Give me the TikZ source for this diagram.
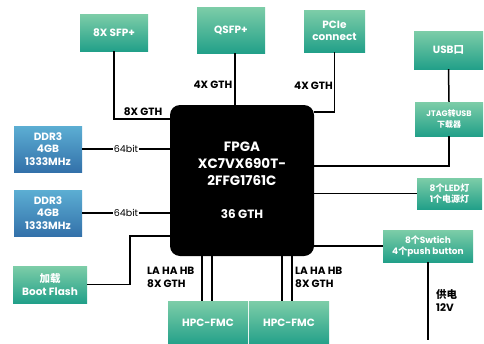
\documentclass[tikz,border=0pt]{standalone}
\usepackage{fontspec}
\setmainfont{Poppins}
\newfontfamily\cjk{Noto Sans CJK SC}
\usepackage{xcolor}
\definecolor{grnTop}{HTML}{7DCDA8}
\definecolor{grnBot}{HTML}{22A089}
\definecolor{bluTop}{HTML}{5CAED3}
\definecolor{bluBot}{HTML}{3371AA}
\newcommand{\zh}[1]{{\cjk #1}}

\begin{document}
\begin{tikzpicture}[
  x=1pt, y=-1pt,
  font=\fontsize{10.5}{12.5}\selectfont\bfseries,
  blk/.style={inner sep=0pt, align=center, text=white, top color=grnTop, bottom color=grnBot},
  mem/.style={blk, top color=bluTop, bottom color=bluBot, font=\fontsize{10.5}{12.5}\selectfont\bfseries},
  cpu/.style={fill=black, rounded corners=10pt, text=white, align=center, inner sep=0pt, font=\fontsize{13.5}{17}\selectfont\bfseries},
  lbl/.style={inner sep=1pt, align=left, font=\fontsize{10.5}{13}\selectfont\bfseries},
  wire/.style={line width=1.5pt}
]
\useasboundingbox (0,0) rectangle (484,343);

\node[cpu, minimum width=144pt, minimum height=151pt] (fpga) at (242,180.5) {FPGA\\XC7VX690T-\\2FFG1761C\\[16pt]{\fontsize{12}{17}\selectfont 36 GTH}};

\node[blk, minimum width=68pt, minimum height=37pt] (sfp) at (114,32.5) {8X SFP+};
\node[blk, minimum width=68pt, minimum height=46pt] (qsfp) at (231,30) {QSFP+};
\node[blk, minimum width=61pt, minimum height=42pt] (pcie) at (334.5,31) {PCIe\\connect};
\node[blk, minimum width=69pt, minimum height=38pt] (usb) at (448.5,50) {USB\zh{口}};
\node[blk, minimum width=68pt, minimum height=34pt, font=\fontsize{8}{11}\selectfont\bfseries] (jtag) at (449,119) {JTAG\zh{转}USB\\\zh{下载器}};

\node[mem, minimum width=68pt, minimum height=46pt] (ddrA) at (48,149) {DDR3\\4GB\\1333MHz};
\node[mem, minimum width=68pt, minimum height=46pt] (ddrB) at (48,213) {DDR3\\4GB\\1333MHz};
\node[blk, minimum width=74pt, minimum height=37pt] (boot) at (50,284.5) {\zh{加载}\\Boot Flash};

\node[blk, minimum width=80pt, minimum height=44pt] (hpcA) at (208,323) {HPC-FMC};
\node[blk, minimum width=80pt, minimum height=44pt] (hpcB) at (289,323) {HPC-FMC};

\node[blk, minimum width=65pt, minimum height=31pt, font=\fontsize{9}{11}\selectfont\bfseries] (led) at (449.5,193.5) {8\zh{个}LED\zh{灯}\\1\zh{个电源灯}};
\node[blk, minimum width=90pt, minimum height=32pt, font=\fontsize{9}{11}\selectfont\bfseries] (sw) at (428,246) {8\zh{个}Swtich\\4\zh{个}push button};
\coordinate (pwr) at (428,340);

\node[lbl] (gthSfp) at (143,112) {8X GTH};
\node[lbl] (gthQsfp) at (213,85) {4X GTH};
\node[lbl] (gthPcie) at (313.5,86) {4X GTH};
\node[lbl, anchor=west] (fmcA) at (146,277.5) {LA HA HB\\8X GTH};
\node[lbl, anchor=west] (fmcB) at (294,277.5) {LA HA HB\\8X GTH};
\node[lbl, anchor=west] (pwrLbl) at (435,300.5) {\zh{供电}\\12V};

\draw[wire] (sfp.south) |- (fpga.west |- 0,119);
\draw[wire] ([xshift=4pt]qsfp.south) -- ([xshift=4pt]qsfp.south |- fpga.north);
\draw[wire] (pcie.south) |- (fpga.east |- 0,112);
\draw[wire] (usb.south) -- (jtag.north);
\draw[wire] (jtag.south) |- (fpga.east |- 0,166);
\draw[wire] (led.west) -- (led.west -| fpga.east);
\draw[wire] (sw.west) -- (sw.west -| fpga.east);
\draw[wire] (sw.south) -- (pwr);
\draw[wire] (ddrA) -- node[fill=white, inner sep=1pt, font=\fontsize{9.5}{10}\selectfont\mdseries] {64bit} (ddrA -| fpga.west);
\draw[wire] (ddrB) -- node[fill=white, inner sep=1pt, font=\fontsize{9.5}{10}\selectfont\mdseries] {64bit} (ddrB -| fpga.west);
\draw[wire] (boot.east) -- ++(43,0) |- (fpga.west |- 0,236);
\foreach \x in {202,212} \draw[wire] (fpga.south -| \x,0) -- (hpcA.north -| \x,0);
\foreach \x in {282,292} \draw[wire] (fpga.south -| \x,0) -- (hpcB.north -| \x,0);

\end{tikzpicture}
\end{document}
